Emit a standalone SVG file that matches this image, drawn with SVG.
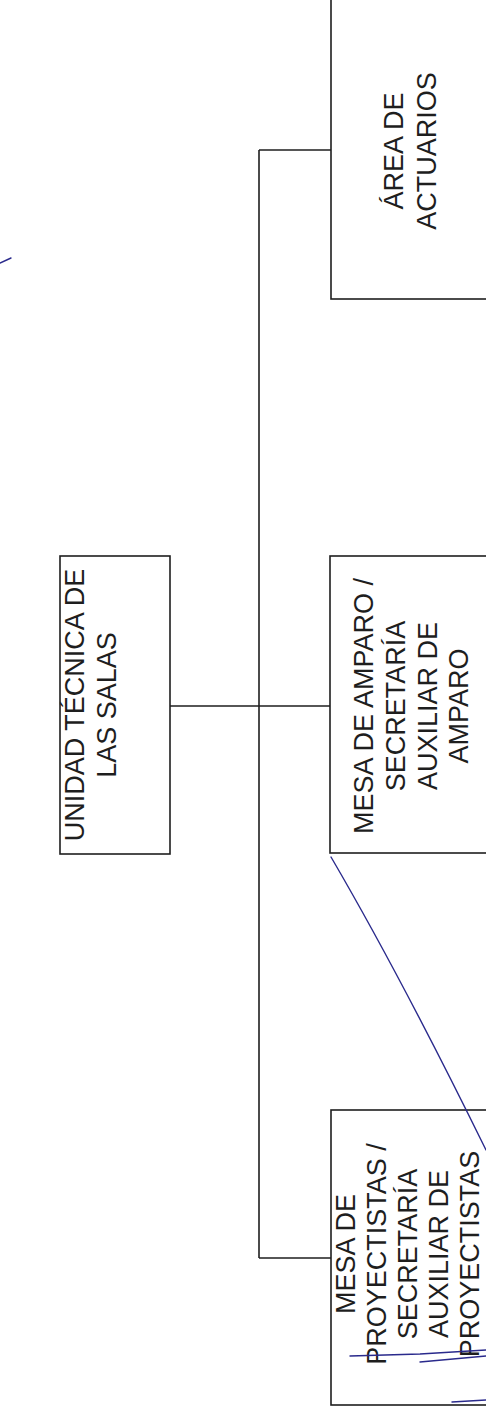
<svg xmlns="http://www.w3.org/2000/svg" width="486" height="1408" viewBox="0 0 486 1408">
<style>
  .box { fill: #ffffff; stroke: #1e1e1e; stroke-width: 1.6; }
  .lbl { font-family: "Liberation Sans", Arial, sans-serif; font-size: 27px; fill: #1e1e1e; text-anchor: middle; }
  .conn { fill: none; stroke: #1e1e1e; stroke-width: 1.6; }
  .pen { fill: none; stroke: #2a2a8c; stroke-width: 1.4; stroke-linecap: round; }
</style>
<rect width="486" height="1408" fill="#ffffff"/>
<g id="connectors">
  <path class="conn" d="M170,706 H330"/>
  <path class="conn" d="M259,150 V1258"/>
  <path class="conn" d="M259,150 H331"/>
  <path class="conn" d="M259,1258 H331"/>
</g>
<g id="node-area-actuarios">
  <rect class="box" x="331" y="-5" width="165" height="304"/>
  <text class="lbl" transform="translate(0,151) rotate(-90)"><tspan x="0" y="403">ÁREA DE</tspan><tspan x="0" y="436">ACTUARIOS</tspan></text>
</g>
<g id="node-unidad-tecnica">
  <rect class="box" x="60" y="556" width="110" height="298"/>
  <text class="lbl" transform="translate(0,705) rotate(-90)"><tspan x="0" y="84">UNIDAD TÉCNICA DE</tspan><tspan x="0" y="116">LAS SALAS</tspan></text>
</g>
<g id="node-mesa-amparo">
  <rect class="box" x="330" y="556" width="166" height="297"/>
  <text class="lbl" transform="translate(0,706) rotate(-90)"><tspan x="0" y="373">MESA DE AMPARO /</tspan><tspan x="0" y="405">SECRETARÍA</tspan><tspan x="0" y="437">AUXILIAR DE</tspan><tspan x="0" y="468">AMPARO</tspan></text>
</g>
<g id="node-mesa-proyectistas">
  <rect class="box" x="331" y="1110" width="165" height="295"/>
  <text class="lbl" transform="translate(0,1254) rotate(-90)"><tspan x="0" y="355">MESA DE</tspan><tspan x="0" y="386">PROYECTISTAS /</tspan><tspan x="0" y="417">SECRETARÍA</tspan><tspan x="0" y="448">AUXILIAR DE</tspan><tspan x="0" y="479">PROYECTISTAS</tspan></text>
</g>
<g id="pen-marks">
  <path class="pen" d="M331,857 Q400,975 486,1150"/>
  <path class="pen" stroke-width="2.2" d="M350,1356 L420,1354 L486,1350"/>
  <path class="pen" d="M420,1362 L486,1356"/>
  <path class="pen" stroke-width="2" d="M452,1402 L486,1400"/>
  <path class="pen" stroke-width="2" d="M0,263 L11,258"/>
</g>
</svg>
